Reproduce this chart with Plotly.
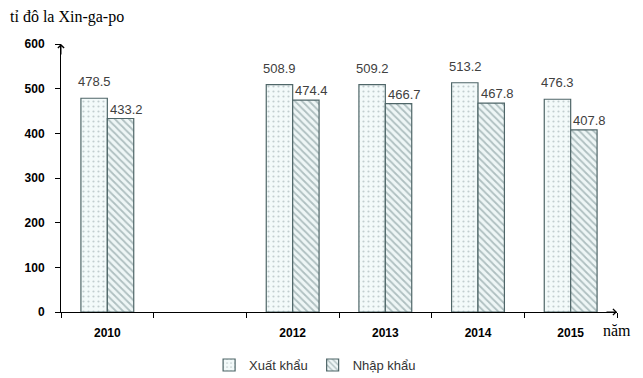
import plotly.graph_objects as go

years = ["2010", "2011", "2012", "2013", "2014", "2015"]
year_labels = ["2010", "", "2012", "2013", "2014", "2015"]
export_vals = [478.5, None, 508.9, 509.2, 513.2, 476.3]
import_vals = [433.2, None, 474.4, 466.7, 467.8, 407.8]
y_ticks = [0, 100, 200, 300, 400, 500, 600]

edge = "#4f6668"
fig = go.Figure()
fig.add_trace(go.Bar(
    name="Xuất khẩu", x=years, y=export_vals,
    marker=dict(color="#f3fafa", line=dict(color=edge, width=1.2),
                pattern=dict(shape=".", fgcolor="#8fa2a3", bgcolor="#f3fafa", size=5, solidity=0.15)),
))
fig.add_trace(go.Bar(
    name="Nhập khẩu", x=years, y=import_vals,
    marker=dict(color="#eef6f6", line=dict(color=edge, width=1.2),
                pattern=dict(shape="\\", fgcolor="#6f8789", bgcolor="#eef6f6", size=5, solidity=0.35)),
))

label_font = dict(family="Liberation Sans", size=13, color="#404040")
annotations = []
for i, v in enumerate(export_vals):
    if v is not None:
        annotations.append(dict(text=f"{v:.1f}", x=i, y=v, xref="x", yref="y",
                                xshift=-13, yshift=7, xanchor="center", yanchor="bottom",
                                showarrow=False, font=label_font))
for i, v in enumerate(import_vals):
    if v is not None:
        annotations.append(dict(text=f"{v:.1f}", x=i, y=v, xref="x", yref="y",
                                xshift=19, yshift=0, xanchor="center", yanchor="bottom",
                                showarrow=False, font=label_font))

annotations += [
    dict(text="tỉ đô la Xin-ga-po", xref="paper", yref="paper", x=0, y=1.0,
         xshift=-53, yshift=27, xanchor="left", yanchor="middle", showarrow=False,
         font=dict(family="Liberation Serif", size=16, color="black")),
    dict(text="năm", xref="paper", yref="paper", x=1.0, y=0.0, xshift=-16, yshift=-18,
         xanchor="left", yanchor="middle", showarrow=False,
         font=dict(family="Liberation Serif", size=16, color="black")),
    dict(text="", xref="paper", yref="paper", x=0, y=1, ax=0, ay=12,
         showarrow=True, arrowhead=4, arrowsize=1.2, arrowwidth=1, arrowcolor="black"),
    dict(text="", xref="paper", yref="paper", x=1, y=0, ax=-12, ay=0,
         showarrow=True, arrowhead=4, arrowsize=1.2, arrowwidth=1, arrowcolor="black"),
]

fig.update_layout(
    width=635, height=370,
    margin=dict(l=53, r=26, t=36, b=66, autoexpand=False),
    paper_bgcolor="white", plot_bgcolor="white",
    barmode="group", bargap=0.43, bargroupgap=0,
    showlegend=True,
    legend=dict(orientation="h", x=0.457, xanchor="center", y=-0.198, yanchor="middle",
                font=dict(family="Liberation Sans", size=13, color="#333"),
                itemwidth=30, traceorder="normal"),
    xaxis=dict(type="category", categoryorder="array", categoryarray=years,
               range=[-0.5, len(years) - 0.5],
               tickvals=years, ticktext=year_labels, tickson="boundaries",
               ticks="outside", ticklen=5, tickcolor="black", automargin=False,
               showline=True, linecolor="black", linewidth=1, ticklabelstandoff=10,
               showgrid=False, zeroline=False,
               tickfont=dict(family="Liberation Sans", size=12, color="black", weight="bold")),
    yaxis=dict(range=[0, 600], tickvals=y_ticks, ticks="outside", ticklen=5, automargin=False,
               tickcolor="black", showline=True, linecolor="black", linewidth=1,
               showgrid=False, zeroline=False, ticklabelstandoff=8,
               tickfont=dict(family="Liberation Sans", size=12, color="black", weight="bold")),
    annotations=annotations,
)

fig.write_html("out.html")
